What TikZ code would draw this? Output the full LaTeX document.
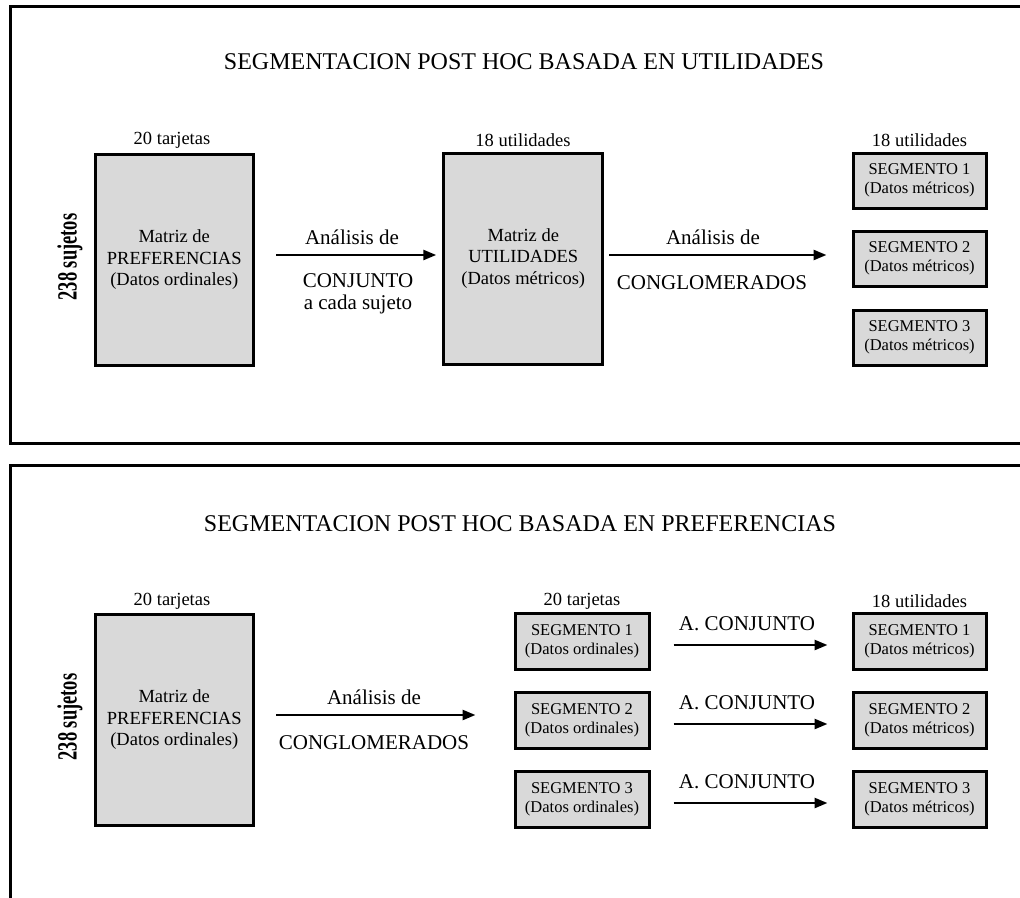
\documentclass[tikz,border=0pt]{standalone}
\usepackage{fontspec}
\setmainfont{Liberation Serif}
\usetikzlibrary{arrows.meta}
\definecolor{boxgray}{RGB}{217,217,217}
\begin{document}
\begin{tikzpicture}[x=1pt,y=-1pt,
  frame/.style={line width=3pt},
  bigbox/.style={draw, line width=3pt, fill=boxgray, inner sep=0pt, align=center,
    minimum width=158.5pt, minimum height=210.5pt, font=\fontsize{18.5}{21.5}\selectfont},
  segbox/.style={draw, line width=3pt, fill=boxgray, inner sep=0pt, align=center,
    minimum width=133pt, minimum height=55pt, font=\fontsize{16.5}{19}\selectfont},
  capt/.style={font=\fontsize{18.5}{21}\selectfont, inner sep=0pt},
  lab/.style={font=\fontsize{21}{22}\selectfont, align=center, inner sep=0pt},
  ttl/.style={font=\fontsize{24}{28}\selectfont, inner sep=0pt},
  flow/.style={line width=2.5pt, -{Triangle[length=13pt,width=10pt]}},
  subj/.style={rotate=90, inner sep=0pt, font=\fontsize{18.5}{19}\selectfont\bfseries}
]
\useasboundingbox (0,0) rectangle (1020,897);

% ---------- frames ----------
\draw[frame] (1025,6) -- (10,6) -- (10,443) -- (1025,443);
\draw[frame] (1025,465) -- (10,465) -- (10,905);

% ---------- top panel ----------
\node[ttl] (t1) at (524,62) {SEGMENTACION POST HOC BASADA EN UTILIDADES};

\node[capt] (c1) at (172,140) {20 tarjetas};
\node[bigbox] (m1) at (174.25,259.75) {Matriz de\\PREFERENCIAS\\(Datos ordinales)};
\node[subj] (s1) at (70,257) {\scalebox{1}[1.5]{238 sujetos}};

\node[capt] (c2) at (523,140) {18 utilidades};
\node[bigbox, minimum width=159pt, minimum height=211pt] (m2) at (523.25,258.5) {Matriz de\\UTILIDADES\\(Datos métricos)};

\coordinate (ya) at (0,255);
\draw[flow, shorten <=21pt, shorten >=6pt] (m1.east |- ya) -- (m2.west |- ya);
\node[lab] (l1) at (352,237) {Análisis de};
\node[lab] (l2) at (358,294) {CONJUNTO\\a cada sujeto};

\node[capt] (c3) at (919.5,140) {18 utilidades};
\node[segbox] (r1) at (919.5,180.5) {SEGMENTO 1\\(Datos métricos)};
\node[segbox] (r2) at (919.5,258.5) {SEGMENTO 2\\(Datos métricos)};
\node[segbox] (r3) at (919.5,337.5) {SEGMENTO 3\\(Datos métricos)};

\draw[flow, shorten <=5pt, shorten >=25pt] (m2.east |- ya) -- (r2.west |- ya);
\node[lab] (l3) at (713,237) {Análisis de};
\node[lab] (l4) at (712,283) {CONGLOMERADOS};

% ---------- bottom panel ----------
\node[ttl] (t2) at (520,524) {SEGMENTACION POST HOC BASADA EN PREFERENCIAS};

\node[capt] (c4) at (172,601) {20 tarjetas};
\node[bigbox] (m3) at (174.25,719.75) {Matriz de\\PREFERENCIAS\\(Datos ordinales)};
\node[subj] (s2) at (70,717) {\scalebox{1}[1.5]{238 sujetos}};

\node[capt] (c5) at (582,601) {20 tarjetas};
\node[segbox, minimum width=134pt, minimum height=56pt] (o1) at (582,641) {SEGMENTO 1\\(Datos ordinales)};
\node[segbox, minimum width=134pt, minimum height=56pt] (o2) at (582,720) {SEGMENTO 2\\(Datos ordinales)};
\node[segbox, minimum width=134pt, minimum height=56pt] (o3) at (582,799) {SEGMENTO 3\\(Datos ordinales)};

\coordinate (yb) at (0,715);
\draw[flow, shorten <=21pt, shorten >=38pt] (m3.east |- yb) -- (o2.west |- yb);
\node[lab] (l5) at (374,697) {Análisis de};
\node[lab] (l6) at (374,743) {CONGLOMERADOS};

\node[capt] (c6) at (919.5,601) {18 utilidades};
\node[segbox, minimum height=56pt] (p1) at (919.5,641) {SEGMENTO 1\\(Datos métricos)};
\node[segbox, minimum height=56pt] (p2) at (919.5,720) {SEGMENTO 2\\(Datos métricos)};
\node[segbox, minimum height=56pt] (p3) at (919.5,799) {SEGMENTO 3\\(Datos métricos)};

\coordinate (y1) at (0,645);
\coordinate (y2) at (0,724);
\coordinate (y3) at (0,803);
\draw[flow, shorten <=23pt, shorten >=24pt] (o1.east |- y1) -- (p1.west |- y1);
\draw[flow, shorten <=23pt, shorten >=24pt] (o2.east |- y2) -- (p2.west |- y2);
\draw[flow, shorten <=23pt, shorten >=24pt] (o3.east |- y3) -- (p3.west |- y3);
\node[lab] (k1) at (747,624) {A. CONJUNTO};
\node[lab] (k2) at (747,703) {A. CONJUNTO};
\node[lab] (k3) at (747,782) {A. CONJUNTO};
\end{tikzpicture}
\end{document}
